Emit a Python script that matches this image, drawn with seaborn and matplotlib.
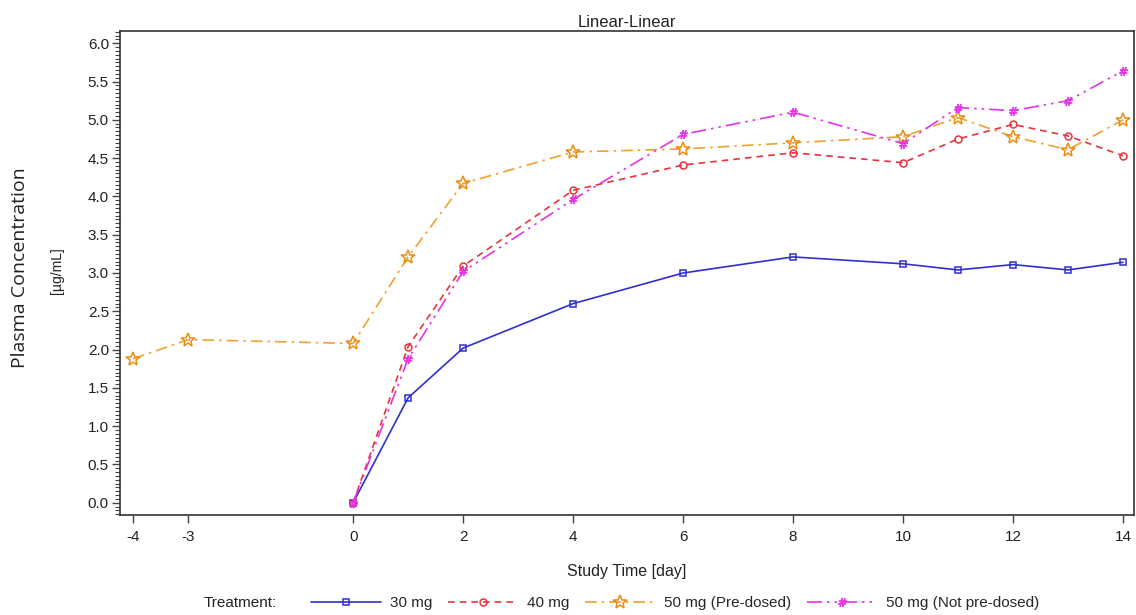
import pandas as pd
import numpy as np
import matplotlib
matplotlib.use("Agg")
import matplotlib.pyplot as plt
from matplotlib.ticker import MultipleLocator
from matplotlib.lines import Line2D
import seaborn as sns

# Data
days_30 = [0, 1, 2, 4, 6, 8, 10, 11, 12, 13, 14]
conc_30 = [0.0, 1.37, 2.02, 2.60, 3.00, 3.21, 3.12, 3.04, 3.11, 3.04, 3.14]

days_40 = [0, 1, 2, 4, 6, 8, 10, 11, 12, 13, 14]
conc_40 = [0.0, 2.04, 3.09, 4.08, 4.41, 4.57, 4.44, 4.75, 4.94, 4.79, 4.53]

days_50p = [-4, -3, 0, 1, 2, 4, 6, 8, 10, 11, 12, 13, 14]
conc_50p = [1.88, 2.13, 2.08, 3.21, 4.17, 4.58, 4.62, 4.70, 4.78, 5.03, 4.78, 4.61, 5.00]

days_50n = [0, 1, 2, 4, 6, 8, 10, 11, 12, 13, 14]
conc_50n = [0.0, 1.88, 3.02, 3.96, 4.81, 5.10, 4.69, 5.16, 5.12, 5.25, 5.64]

treatments = ["30 mg", "40 mg", "50 mg (Pre-dosed)", "50 mg (Not pre-dosed)"]
xticks = [-4, -3, 0, 2, 4, 6, 8, 10, 12, 14]

df = pd.concat([
    pd.DataFrame({"day": days_30, "conc": conc_30, "trt": treatments[0]}),
    pd.DataFrame({"day": days_40, "conc": conc_40, "trt": treatments[1]}),
    pd.DataFrame({"day": days_50p, "conc": conc_50p, "trt": treatments[2]}),
    pd.DataFrame({"day": days_50n, "conc": conc_50n, "trt": treatments[3]}),
])

sns.set_style("ticks")
plt.rcParams["font.family"] = ["Liberation Sans", "DejaVu Sans"]

styles = {
    "30 mg": dict(color="#2f2fd0", marker="s", ls="-", ms=4.8, mfc="none", mew=1.1),
    "40 mg": dict(color="#e8333b", marker="o", ls=(0, (4, 3)), ms=5, mfc="none", mew=1.1),
    "50 mg (Pre-dosed)": dict(color="#f0a030", marker="*", ls=(0, (7, 3, 1.5, 3)), ms=10,
                              mfc="none", mec="#ec8c10", mew=1.1),
    "50 mg (Not pre-dosed)": dict(color="#e632e6", marker="$\\#$", ls=(0, (9, 3, 1.5, 3, 1.5, 3)),
                                  ms=6, mfc="#e632e6", mew=0.6),
}

fig = plt.figure(figsize=(11.36, 6.15), dpi=100)
ax = fig.add_axes([120 / 1136, 1 - 515 / 615, 1014 / 1136, 484 / 615])

for t in treatments:
    s = styles[t]
    sub = df[df["trt"] == t]
    sns.lineplot(data=sub, x="day", y="conc", ax=ax, color=s["color"], linestyle=s["ls"],
                 lw=1.2, marker=s["marker"], markersize=s["ms"], markerfacecolor=s["mfc"],
                 markeredgecolor=s.get("mec", s["color"]), markeredgewidth=s["mew"],
                 legend=False, errorbar=None)

ax.set_xlim(-4.24, 14.2)
ax.set_ylim(-0.16, 6.16)
ax.set_xticks(xticks)
ax.set_xticklabels([str(v) for v in xticks])
ax.yaxis.set_major_locator(MultipleLocator(0.5))
ax.yaxis.set_major_formatter(matplotlib.ticker.FormatStrFormatter("%.1f"))
ax.yaxis.set_minor_locator(MultipleLocator(0.05))
ax.tick_params(axis="both", which="major", labelsize=11, length=6, width=1, color="#444444",
               labelcolor="#222222")
ax.tick_params(axis="y", which="major", pad=2)
ax.tick_params(axis="x", which="major", pad=5)
ax.tick_params(axis="y", which="minor", length=3.5, width=0.8, color="#444444")
for sp in ax.spines.values():
    sp.set_color("#333333")
    sp.set_linewidth(1.2)

ax.set_xlabel("Study Time [day]", fontsize=11.5, labelpad=14, color="#222222")
ax.set_ylabel("")
ax.set_title("Linear-Linear", fontsize=12, pad=3, color="#222222")

fig.text(20 / 1136, 1 - 268 / 615, "Plasma Concentration", rotation=90, ha="center",
         va="center", fontsize=14, family=["Open Sans", "DejaVu Sans"], color="#222222")
fig.text(57 / 1136, 1 - 271 / 615, "[µg/mL]", rotation=90, ha="center", va="center",
         fontsize=10, color="#222222")

handles = []
for t in treatments:
    s = styles[t]
    handles.append(Line2D([], [], color=s["color"], linestyle=s["ls"], lw=1.2,
                          marker=s["marker"], markersize=s["ms"], markerfacecolor=s["mfc"],
                          markeredgecolor=s.get("mec", s["color"]), markeredgewidth=s["mew"]))
fig.text(240 / 1136, 1 - 603 / 615, "Treatment:", ha="center", va="center", fontsize=11,
         color="#222222")
fig.legend(handles, treatments, loc="center", bbox_to_anchor=(675 / 1136, 1 - 603 / 615),
           ncol=4, frameon=False, fontsize=11, handlelength=4.6, numpoints=1,
           columnspacing=1.0, handletextpad=0.6)

fig.savefig("out.png", dpi=100)
